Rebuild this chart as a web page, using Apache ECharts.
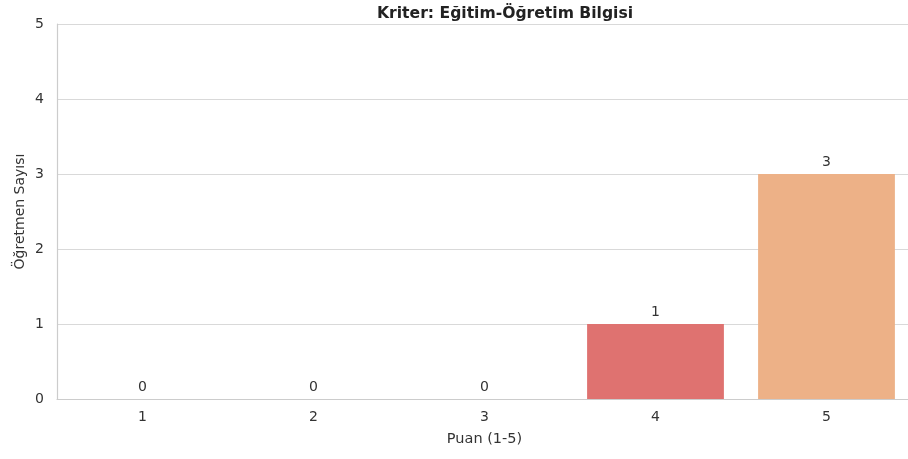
<!DOCTYPE html>
<html><head><meta charset="utf-8">
<script src="https://cdn.jsdelivr.net/npm/echarts@6/dist/echarts.min.js"></script>
<style>html,body{margin:0;padding:0;background:#fff}#c{width:908px;height:459px}</style>
</head><body><div id="c"></div>
<script>
const categories = ['1', '2', '3', '4', '5'];
const counts = [0, 0, 0, 1, 3];
const barColors = ['#d6545d', '#e36b6c', '#e4787a', '#df7270', '#edb187'];
const titleText = 'Kriter: Eğitim-Öğretim Bilgisi';
const xName = 'Puan (1-5)';
const yName = 'Öğretmen Sayısı';

const chart = echarts.init(document.getElementById('c'), null, {renderer: 'canvas'});
const font = 'DejaVu Sans';
chart.setOption({
  animation: false,
  backgroundColor: '#ffffff',
  title: {
    text: titleText, left: 372, top: 1,
    textStyle: {fontFamily: font, fontWeight: 'bold', fontSize: 15.6, color: '#222'}
  },
  grid: {left: 57, width: 855, top: 24, bottom: 60, containLabel: false, outerBoundsMode: 'none'},
  xAxis: {
    type: 'category', data: categories,
    name: xName, nameLocation: 'middle', nameGap: 33,
    nameTextStyle: {fontFamily: font, fontSize: 14.5, color: '#333'},
    axisLine: {show: true, lineStyle: {color: '#cccccc', width: 1.2}},
    axisTick: {show: false},
    axisLabel: {fontFamily: font, fontSize: 14, color: '#333', margin: 11},
    splitLine: {show: false}
  },
  yAxis: {
    type: 'value', min: 0, max: 5, interval: 1,
    name: yName, nameLocation: 'middle', nameGap: 30, nameRotate: 90,
    nameMoveOverlap: false,
    nameTextStyle: {fontFamily: font, fontSize: 14, color: '#333'},
    axisLine: {show: true, lineStyle: {color: '#cccccc', width: 1.2}},
    axisTick: {show: false},
    axisLabel: {fontFamily: font, fontSize: 14, color: '#333', margin: 13},
    splitLine: {show: true, lineStyle: {color: '#d9d9d9', width: 1.2}}
  },
  series: [{
    type: 'bar', barWidth: '80%',
    data: counts.map((v, i) => ({value: v, itemStyle: {color: barColors[i]}})),
    label: {show: true, position: 'top', distance: 5, fontFamily: font, fontSize: 14, color: '#333'}
  }]
});
</script></body></html>
